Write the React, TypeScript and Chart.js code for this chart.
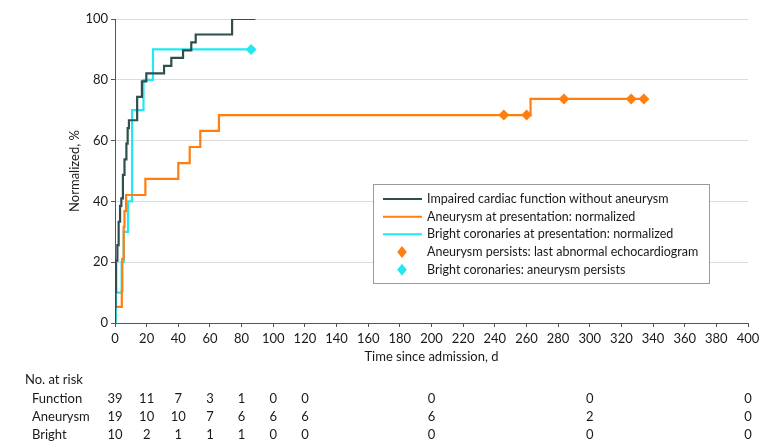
import React, { useEffect, useRef } from "react";
import { Chart, registerables } from "chart.js";
Chart.register(...registerables);

const FONT = "Lato, 'Noto Sans', sans-serif";
const FS = 13;

const functionDays = [0, 0, 0.3, 0.7, 1.5, 2.3, 3.2, 4, 5, 6, 7.2, 8, 8.8, 14, 17, 19.8, 31, 35.6, 43, 48.2, 51, 74, 88.7];
const functionPct = [0, 5.1, 10.3, 20.5, 25.6, 33.3, 38.5, 41.0, 48.7, 53.8, 59.0, 64.1, 66.7, 74.4, 79.5, 82.1, 84.6, 87.2, 89.7, 92.3, 94.9, 100, 100];

const aneurysmDays = [0, 0, 4.3, 4.6, 5.5, 6, 7, 19.2, 40, 47.2, 53.9, 65.7, 262.6, 334.2];
const aneurysmPct = [0, 5.3, 10.5, 21.1, 31.6, 36.8, 42.1, 47.4, 52.6, 57.9, 63.2, 68.4, 73.7, 73.7];

const brightDays = [0, 0.6, 4.2, 5.5, 8.2, 10.8, 18, 24, 86];
const brightPct = [0, 10, 20, 30, 40, 70, 80, 90, 90];

const aneurysmPersistDays = [245.7, 260.1, 283.7, 326.2, 334.2];
const aneurysmPersistPct = [68.4, 68.4, 73.7, 73.7, 73.7];

const brightPersistDays = [86];
const brightPersistPct = [90];

const legendLabels = [
  "Impaired cardiac function without aneurysm",
  "Aneurysm at presentation: normalized",
  "Bright coronaries at presentation: normalized",
  "Aneurysm persists: last abnormal echocardiogram",
  "Bright coronaries: aneurysm persists",
];

const riskDays = [0, 20, 40, 60, 80, 100, 120, 200, 300, 400];
const riskGroups = ["Function", "Aneurysm", "Bright"];
const riskFunction = [39, 11, 7, 3, 1, 0, 0, 0, 0, 0];
const riskAneurysm = [19, 10, 10, 7, 6, 6, 6, 6, 2, 0];
const riskBright = [10, 2, 1, 1, 1, 0, 0, 0, 0, 0];

const DARK = "#2F4F4F";
const ORANGE = "#FF7F0E";
const CYAN = "#22E8F2";
const TEXT = "#1a1a1a";

const pts = (xs: number[], ys: number[]) => xs.map((x, i) => ({ x, y: ys[i] }));

export default function App() {
  const ref = useRef<HTMLCanvasElement>(null);
  useEffect(() => {
    document.body.style.margin = "0";
    const canvas = ref.current!;
    const overlay = {
      id: "overlay",
      afterDraw(chart: any) {
        const ctx = chart.ctx as CanvasRenderingContext2D;
        const xs = chart.scales.x;
        const area = chart.chartArea;
        ctx.save();
        ctx.fillStyle = TEXT;
        ctx.font = `${FS}px ${FONT}`;
        ctx.textAlign = "center";
        ctx.textBaseline = "middle";
        ctx.fillText("Time since admission, d", (area.left + area.right) / 2, 357);
        ctx.save();
        ctx.translate(75, (area.top + area.bottom) / 2);
        ctx.rotate(-Math.PI / 2);
        ctx.fillText("Normalized, %", 0, 0);
        ctx.restore();
        // legend
        const lx = 373.5, ly = 184.5, lw = 336, lh = 99;
        ctx.fillStyle = "#fff";
        ctx.fillRect(lx, ly, lw, lh);
        ctx.strokeStyle = "#9a9a9a";
        ctx.lineWidth = 1;
        ctx.strokeRect(lx, ly, lw, lh);
        const rowY = [199, 216.7, 234.3, 252, 269.7];
        const colors = [DARK, ORANGE, CYAN, ORANGE, CYAN];
        ctx.font = `12.5px ${FONT}`;
        legendLabels.forEach((label, i) => {
          const y = rowY[i];
          ctx.strokeStyle = colors[i];
          ctx.fillStyle = colors[i];
          if (i < 3) {
            ctx.lineWidth = 2;
            ctx.beginPath();
            ctx.moveTo(383, y);
            ctx.lineTo(422, y);
            ctx.stroke();
          } else {
            const cx = 402, r = 6;
            ctx.beginPath();
            ctx.moveTo(cx, y - r);
            ctx.lineTo(cx + r * 0.8, y);
            ctx.lineTo(cx, y + r);
            ctx.lineTo(cx - r * 0.8, y);
            ctx.closePath();
            ctx.fill();
          }
          ctx.fillStyle = TEXT;
          ctx.textAlign = "left";
          ctx.fillText(label, 427, y);
        });
        // risk table
        ctx.font = `${FS}px ${FONT}`;
        ctx.fillStyle = TEXT;
        ctx.textAlign = "left";
        ctx.fillText("No. at risk", 25, 380);
        const rows = [riskFunction, riskAneurysm, riskBright];
        const ry = [399, 417, 435];
        rows.forEach((vals, r) => {
          ctx.textAlign = "left";
          ctx.fillText(riskGroups[r], 32, ry[r]);
          ctx.textAlign = "center";
          vals.forEach((v, j) => {
            ctx.fillText(String(v), xs.getPixelForValue(riskDays[j]), ry[r]);
          });
        });
        ctx.restore();
      },
    };
    const chart = new Chart(canvas, {
      type: "line",
      data: {
        datasets: [
          { data: pts(functionDays, functionPct), borderColor: DARK, borderWidth: 2.2, stepped: "before", pointRadius: 0, fill: false },
          { data: pts(aneurysmDays, aneurysmPct), borderColor: ORANGE, borderWidth: 2.2, stepped: "before", pointRadius: 0, fill: false },
          { data: pts(brightDays, brightPct), borderColor: CYAN, borderWidth: 2.2, stepped: "before", pointRadius: 0, fill: false },
          { data: pts(aneurysmPersistDays, aneurysmPersistPct), showLine: false, pointStyle: "rectRot", pointRadius: 5.5, backgroundColor: ORANGE, borderColor: ORANGE, borderWidth: 0 },
          { data: pts(brightPersistDays, brightPersistPct), showLine: false, pointStyle: "rectRot", pointRadius: 5.5, backgroundColor: CYAN, borderColor: CYAN, borderWidth: 0 },
        ],
      },
      options: {
        responsive: false,
        animation: false,
        layout: { padding: { top: 19, right: 35, left: 0, bottom: 0 } },
        plugins: { legend: { display: false }, tooltip: { enabled: false } },
        scales: {
          x: {
            type: "linear",
            min: 0,
            max: 400,
            afterFit: (s: any) => { s.height = 123; },
            border: { color: "#555", width: 1 },
            grid: { drawOnChartArea: false, drawTicks: true, tickLength: 4, tickColor: "#555" },
            ticks: { stepSize: 20, autoSkip: false, maxRotation: 0, padding: 4, color: TEXT, font: { family: FONT, size: FS } },
          },
          y: {
            min: 0,
            max: 100,
            afterFit: (s: any) => { s.width = 115; },
            border: { color: "#555", width: 1 },
            grid: { color: "#dcdcdc", drawTicks: true, tickLength: 4, tickColor: "#555" },
            ticks: { stepSize: 20, padding: 3, color: TEXT, font: { family: FONT, size: FS } },
          },
        },
      },
      plugins: [overlay],
    } as any);
    return () => chart.destroy();
  }, []);
  return <canvas ref={ref} width={783} height={446} style={{ display: "block" }} />;
}
